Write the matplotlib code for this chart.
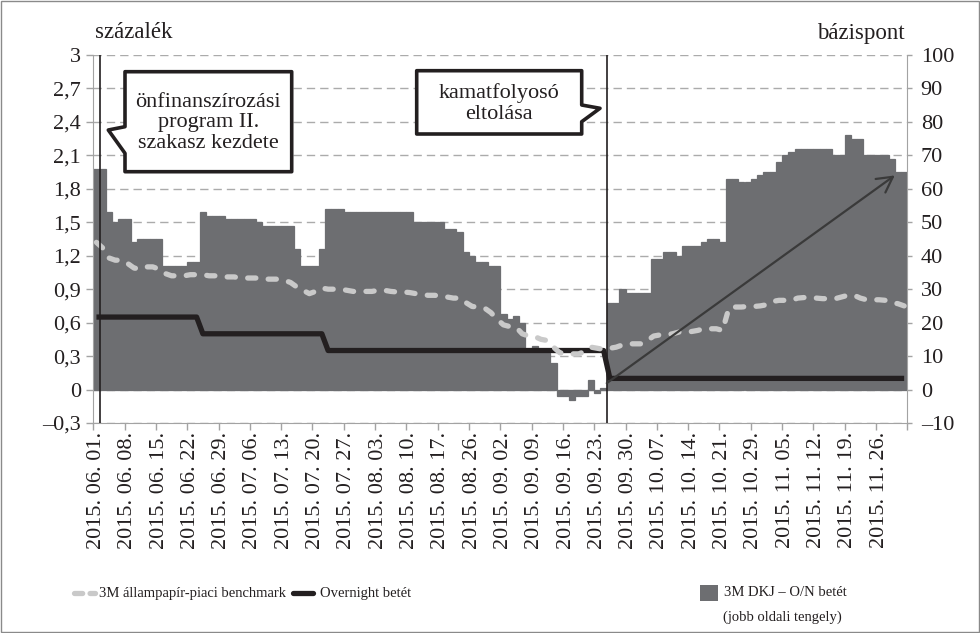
import numpy as np
import matplotlib
matplotlib.use('Agg')
import matplotlib.pyplot as plt
from matplotlib.patches import Polygon, Rectangle
from matplotlib.lines import Line2D

# 3M DKJ - O/N betét, bázispont (jobb tengely), one value per business day
spreadBp = [
    66, 66, 53, 50, 51, 51, 44, 45, 45, 45,
    45, 37, 37, 37, 37, 38, 38, 53, 52, 52,
    52, 51, 51, 51, 51, 51, 50, 49, 49, 49,
    49, 49, 42, 37, 37, 37, 42, 54, 54, 54,
    53, 53, 53, 53, 53, 53, 53, 53, 53, 53,
    53, 50, 50, 50, 50, 50, 48, 48, 47, 41,
    40, 38, 38, 37, 37, 22.5, 21, 22, 20, 12,
    13, 12, 11, 8, -2, -2, -3, -2, -2, 3,
    -1, 0.5, 26, 26, 30, 29, 29, 29, 29, 39,
    39, 41, 41, 40, 43, 43, 43, 44, 45, 45,
    44, 63, 63, 62, 62, 63, 64, 65, 65, 68,
    70, 71, 72, 72, 72, 72, 72, 72, 70, 70,
    76, 75, 75, 70, 70, 70, 70, 69, 65, 65,
]

# 3M állampapír-piaci benchmark, százalék
benchmark = [
    1.32, 1.27, 1.18, 1.16, 1.16, 1.13, 1.09, 1.08, 1.10, 1.10,
    1.08, 1.04, 1.02, 1.02, 1.02, 1.03, 1.03, 1.03, 1.02, 1.02,
    1.01, 1.01, 1.01, 1.00, 1.00, 1.00, 1.00, 0.99, 0.99, 0.99,
    0.98, 0.96, 0.92, 0.89, 0.86, 0.88, 0.91, 0.90, 0.90, 0.90,
    0.89, 0.88, 0.88, 0.88, 0.88, 0.89, 0.89, 0.88, 0.875, 0.875,
    0.87, 0.86, 0.85, 0.845, 0.845, 0.84, 0.83, 0.82, 0.82, 0.78,
    0.745, 0.74, 0.73, 0.69, 0.63, 0.58, 0.565, 0.56, 0.50, 0.48,
    0.475, 0.45, 0.44, 0.38, 0.33, 0.32, 0.32, 0.32, 0.34, 0.38,
    0.37, 0.36, 0.37, 0.38, 0.40, 0.41, 0.41, 0.41, 0.44, 0.48,
    0.49, 0.49, 0.50, 0.515, 0.515, 0.52, 0.53, 0.545, 0.545, 0.545,
    0.53, 0.73, 0.74, 0.74, 0.745, 0.745, 0.75, 0.76, 0.79, 0.80,
    0.80, 0.80, 0.82, 0.825, 0.825, 0.82, 0.815, 0.815, 0.815, 0.83,
    0.845, 0.845, 0.82, 0.805, 0.805, 0.805, 0.80, 0.78, 0.77, 0.75,
]

# Overnight betét, százalék
overnight = [
    0.65, 0.65, 0.65, 0.65, 0.65, 0.65, 0.65, 0.65, 0.65, 0.65,
    0.65, 0.65, 0.65, 0.65, 0.65, 0.65, 0.65, 0.50, 0.50, 0.50,
    0.50, 0.50, 0.50, 0.50, 0.50, 0.50, 0.50, 0.50, 0.50, 0.50,
    0.50, 0.50, 0.50, 0.50, 0.50, 0.50, 0.50, 0.35, 0.35, 0.35,
    0.35, 0.35, 0.35, 0.35, 0.35, 0.35, 0.35, 0.35, 0.35, 0.35,
    0.35, 0.35, 0.35, 0.35, 0.35, 0.35, 0.35, 0.35, 0.35, 0.35,
    0.35, 0.35, 0.35, 0.35, 0.35, 0.35, 0.35, 0.35, 0.35, 0.35,
    0.35, 0.35, 0.35, 0.35, 0.35, 0.35, 0.35, 0.35, 0.35, 0.35,
    0.35, 0.35, 0.10, 0.10, 0.10, 0.10, 0.10, 0.10, 0.10, 0.10,
    0.10, 0.10, 0.10, 0.10, 0.10, 0.10, 0.10, 0.10, 0.10, 0.10,
    0.10, 0.10, 0.10, 0.10, 0.10, 0.10, 0.10, 0.10, 0.10, 0.10,
    0.10, 0.10, 0.10, 0.10, 0.10, 0.10, 0.10, 0.10, 0.10, 0.10,
    0.10, 0.10, 0.10, 0.10, 0.10, 0.10, 0.10, 0.10, 0.10, 0.10,
]

# every 5th business day gets a label
dateLabels = [
    '2015. 06. 01.', '2015. 06. 08.', '2015. 06. 15.', '2015. 06. 22.',
    '2015. 06. 29.', '2015. 07. 06.', '2015. 07. 13.', '2015. 07. 20.',
    '2015. 07. 27.', '2015. 08. 03.', '2015. 08. 10.', '2015. 08. 17.',
    '2015. 08. 26.', '2015. 09. 02.', '2015. 09. 09.', '2015. 09. 16.',
    '2015. 09. 23.', '2015. 09. 30.', '2015. 10. 07.', '2015. 10. 14.',
    '2015. 10. 21.', '2015. 10. 29.', '2015. 11. 05.', '2015. 11. 12.',
    '2015. 11. 19.', '2015. 11. 26.',
]
labelStep = 5

leftTicks = [-0.3, 0, 0.3, 0.6, 0.9, 1.2, 1.5, 1.8, 2.1, 2.4, 2.7, 3]
leftTickLabels = ['–0,3', '0', '0,3', '0,6', '0,9', '1,2', '1,5', '1,8',
                  '2,1', '2,4', '2,7', '3']
rightTicks = [-10, 0, 10, 20, 30, 40, 50, 60, 70, 80, 90, 100]
rightTickLabels = ['–10', '0', '10', '20', '30', '40', '50', '60', '70',
                   '80', '90', '100']

# event markers (category positions) and the trend arrow
eventPos = [0.57, 81.6]
arrowStart = (81.5, 0.057)
arrowEnd = (127.5, 1.92)

SERIF = 'Liberation Serif'
TXT = '#231f20'
BAR = '#6d6e71'
BENCH = '#c9c9c9'
AXIS = '#a3a3a3'

W, H = 980, 633
plt.rcParams['font.family'] = [SERIF, 'DejaVu Serif']


def fxy(px, py):
    return (px / W, 1 - py / H)


fig = plt.figure(figsize=(W / 100, H / 100), dpi=100)
ax = fig.add_axes([93.3 / W, 1 - 423 / H, (907.3 - 93.3) / W, (423 - 55) / H])
ax2 = ax.twinx()
ax.set_zorder(ax2.get_zorder() + 1)
ax.patch.set_visible(False)

x = np.arange(len(spreadBp))

ax2.bar(x, spreadBp, width=1.0, color=BAR, edgecolor=BAR, linewidth=0.9)
ax2.set_ylim(-10, 100)
ax2.set_yticks(rightTicks)
ax2.set_yticklabels(rightTickLabels)
ax2.set_axisbelow(True)
ax2.yaxis.grid(True, color='#ababab', linewidth=1.0, linestyle=(0, (6, 3.6)))

ax.plot(x, overnight, color=TXT, linewidth=3.8, solid_capstyle='butt', zorder=3)
ax.plot(x, benchmark, color=BENCH, linewidth=3.8, dash_capstyle='round',
        linestyle=(0, (1.55, 2.35)), zorder=4)
for ev in eventPos:
    ax.axvline(ev, color=TXT, linewidth=1.2, zorder=5)
ax.annotate('', xy=arrowEnd, xytext=arrowStart,
            arrowprops=dict(arrowstyle='->,head_length=0.55,head_width=0.3',
                            color='#3a3a3a', lw=1.6, shrinkA=0, shrinkB=0,
                            mutation_scale=20), zorder=6)

ax.set_xlim(-0.5, len(spreadBp) - 0.5)
ax.set_ylim(-0.3, 3)
ax.set_yticks(leftTicks)
ax.set_yticklabels(leftTickLabels)
ax.set_xticks(x[::labelStep])
ax.set_xticklabels(dateLabels, rotation=90, fontsize=16, color=TXT)
ax.set_xticks(np.arange(-0.5, len(spreadBp), labelStep), minor=True)
ax.tick_params(axis='x', which='major', length=0, pad=6.5)
ax.tick_params(axis='x', which='minor', length=5, color=AXIS, width=1)
ax.tick_params(axis='y', length=5, color=AXIS, width=1, pad=4,
               labelsize=16, labelcolor=TXT)
ax2.tick_params(axis='y', length=3.6, color=AXIS, width=1, pad=6,
                labelsize=16, labelcolor=TXT)

for a in (ax, ax2):
    a.spines['top'].set_visible(False)
ax.spines['right'].set_visible(False)
ax2.spines['left'].set_visible(False)
ax2.spines['bottom'].set_visible(False)
for side in ('left', 'bottom'):
    ax.spines[side].set_color(AXIS)
ax2.spines['right'].set_color(AXIS)

fig.text(*fxy(95, 33), 'százalék', ha='left', va='center', fontsize=16.5, color=TXT)
fig.text(*fxy(905, 33), 'bázispont', ha='right', va='center', fontsize=16.5, color=TXT)

# speech-bubble callouts
bubble1 = [(125, 71.7), (291.7, 71.7), (291.7, 171.7), (125, 171.7),
           (125, 153.3), (108.3, 130), (125, 126.7)]
bubble2 = [(416.7, 70.7), (581.7, 70.7), (581.7, 105), (600, 108.3),
           (581.7, 121.7), (581.7, 134), (416.7, 134)]
for pts in (bubble1, bubble2):
    fig.add_artist(Polygon([fxy(*p) for p in pts], closed=True,
                           transform=fig.transFigure, facecolor='white',
                           edgecolor=TXT, linewidth=2.6, joinstyle='round'))
fig.text(*fxy(208.3, 123), 'önfinanszírozási\nprogram II.\nszakasz kezdete',
         ha='center', va='center', fontsize=16, linespacing=1.13, color=TXT)
fig.text(*fxy(499, 103.5), 'kamatfolyosó\neltolása',
         ha='center', va='center', fontsize=16, linespacing=1.13, color=TXT)

# legend row
legY = 593
legSize = 10.5
fig.add_artist(Line2D([fxy(74, legY)[0], fxy(95, legY)[0]], [fxy(0, legY)[1]] * 2,
                      transform=fig.transFigure, color=BENCH, linewidth=3.8,
                      dash_capstyle='round', linestyle=(0, (1.55, 1.4))))
fig.text(*fxy(99, legY), '3M állampapír-piaci benchmark', ha='left', va='center',
         fontsize=legSize, color=TXT)
fig.add_artist(Line2D([fxy(293, legY)[0], fxy(313, legY)[0]], [fxy(0, legY)[1]] * 2,
                      transform=fig.transFigure, color=TXT, linewidth=3.8,
                      solid_capstyle='round'))
fig.text(*fxy(320, legY), 'Overnight betét', ha='left', va='center',
         fontsize=legSize, color=TXT)
fig.add_artist(Rectangle(fxy(700, legY + 8), 18 / W, 16 / H,
                         transform=fig.transFigure, facecolor=BAR, edgecolor='none'))
fig.text(*fxy(724, legY), '3M DKJ – O/N betét', ha='left', va='center',
         fontsize=legSize, color=TXT)
fig.text(*fxy(723, legY + 24), '(jobb oldali tengely)', ha='left', va='center',
         fontsize=legSize, color=TXT)

fig.add_artist(Rectangle((0.001, 0.0015), 0.998, 0.997, transform=fig.transFigure,
                         fill=False, edgecolor='#8a8a8a', linewidth=1))

fig.savefig('out.png', dpi=100)
